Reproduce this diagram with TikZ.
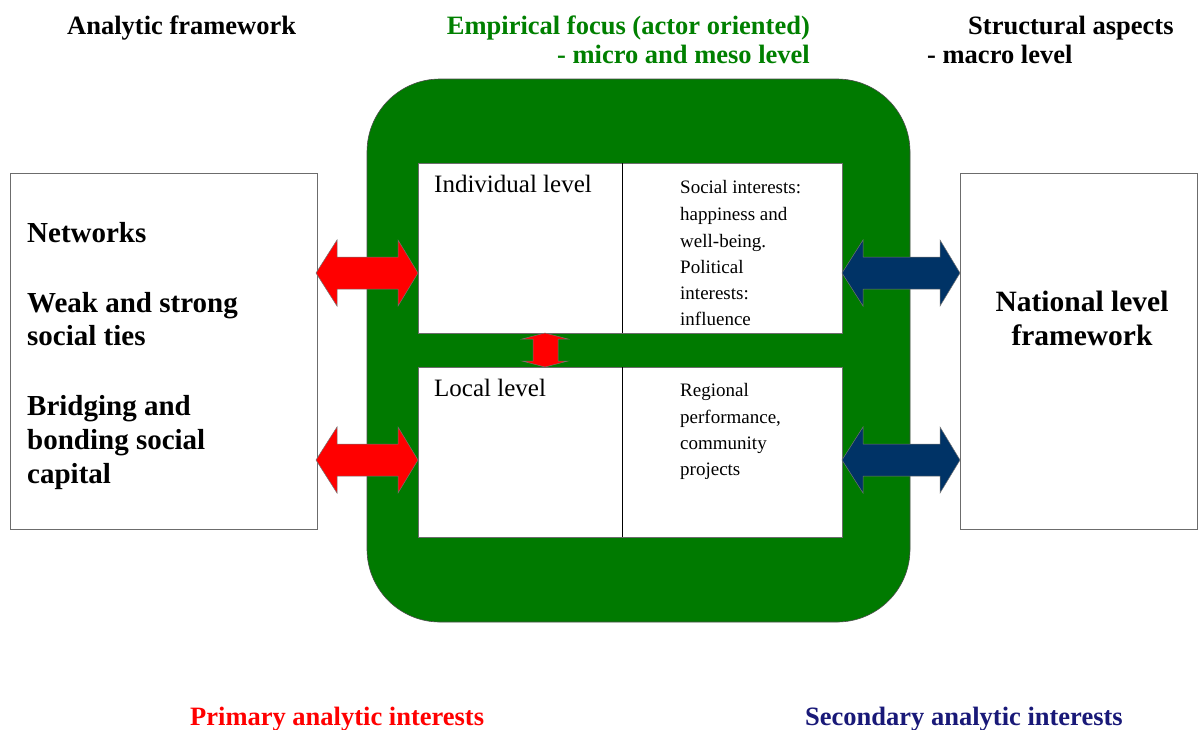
\documentclass[tikz,border=0pt]{standalone}
\usepackage{fontspec}
\setmainfont{Liberation Serif}
\definecolor{gfill}{RGB}{0,122,0}
\definecolor{gtext}{RGB}{0,128,0}
\definecolor{navyfill}{RGB}{0,51,102}
\definecolor{navytext}{RGB}{25,25,120}
\definecolor{redfill}{RGB}{255,0,0}
\newcommand\hblockarrow[4]{%
  \draw[arrowshape, fill=#4] ({#1},{#3}) -- ({#1+21},{#3-33}) -- ({#1+21},{#3-16}) -- ({#2-20},{#3-16}) -- ({#2-20},{#3-33}) -- ({#2},{#3}) -- ({#2-20},{#3+33}) -- ({#2-20},{#3+16}) -- ({#1+21},{#3+16}) -- ({#1+21},{#3+33}) -- cycle;}
\begin{document}
\begin{tikzpicture}[x=1pt,y=-1pt,
  box/.style={draw=gray!85!black, line width=0.9pt, fill=white, inner sep=0pt},
  arrowshape/.style={draw=black!55, line width=0.5pt, line join=miter},
  headtxt/.style={font=\fontsize{26.5}{30}\selectfont\bfseries, inner sep=0pt},
  bigtxt/.style={font=\fontsize{29}{34}\selectfont\bfseries, inner sep=0pt, anchor=base west},
  lvltxt/.style={font=\fontsize{25}{28}\selectfont, inner sep=0pt, anchor=base west},
  smalltxt/.style={font=\fontsize{19}{26}\selectfont, inner sep=0pt, anchor=base west}]
\useasboundingbox[fill=white] (0,0) rectangle (1198,729);

% headings
\node[headtxt, anchor=base west] (h1) at (67,34) {Analytic framework};
\node[headtxt, anchor=base east, text=gtext] (h2a) at (810,34) {Empirical focus (actor oriented)};
\node[headtxt, anchor=base east, text=gtext] (h2b) at (810,63) {- micro and meso level};
\node[headtxt, anchor=base west] (h3a) at (968,34) {Structural aspects};
\node[headtxt, anchor=base west] (h3b) at (927,63) {- macro level};

% side boxes
\node[box, minimum width=307pt, minimum height=356pt] (L) at (163.5,351) {};
\node[box, minimum width=237pt, minimum height=356pt] (R) at (1078.5,351) {};

% green frame
\node[draw=gray!60!black, line width=0.6pt, fill=gfill, rounded corners=73pt,
      minimum width=543pt, minimum height=543pt, inner sep=0pt] (G) at (638.5,350.5) {};

% inner boxes
\node[box, line width=0.8pt, minimum width=424pt, minimum height=170pt] (U) at (630,248) {};
\node[box, line width=0.8pt, minimum width=424pt, minimum height=170pt] (D) at (630,452) {};
\coordinate (ut) at (622,163); \coordinate (ub) at (622,333);
\coordinate (dt) at (622,367); \coordinate (db) at (622,537);
\draw[black, line width=1pt] (ut) -- (ub);
\draw[black, line width=1pt] (dt) -- (db);

% left box text
\node[bigtxt] (l1) at (27,242) {Networks};
\node[bigtxt] (l2) at (27,312) {Weak and strong};
\node[bigtxt] (l3) at (27,345) {social ties};
\node[bigtxt] (l4) at (27,415) {Bridging and};
\node[bigtxt] (l5) at (27,449) {bonding social};
\node[bigtxt] (l6) at (27,483) {capital};

% right box text
\node[font=\fontsize{29.5}{34}\selectfont\bfseries, inner sep=0pt, anchor=base] (r1) at (1082,311) {National level};
\node[font=\fontsize{29.5}{34}\selectfont\bfseries, inner sep=0pt, anchor=base] (r2) at (1082,345) {framework};

% inner texts
\node[lvltxt] (ind) at (434,192) {Individual level};
\node[lvltxt] (loc) at (434,396) {Local level};
\node[smalltxt] (s1) at (680,193) {Social interests:};
\node[smalltxt] (s2) at (680,220) {happiness and};
\node[smalltxt] (s3) at (680,247) {well-being.};
\node[smalltxt] (s4) at (680,273) {Political};
\node[smalltxt] (s5) at (680,299) {interests:};
\node[smalltxt] (s6) at (680,325) {influence};
\node[smalltxt] (g1) at (680,396) {Regional};
\node[smalltxt] (g2) at (680,423) {performance,};
\node[smalltxt] (g3) at (680,449) {community};
\node[smalltxt] (g4) at (680,475) {projects};

% block arrows
\hblockarrow{316}{418}{273}{redfill}
\hblockarrow{316}{418}{460}{redfill}
\hblockarrow{842}{960}{273}{navyfill}
\hblockarrow{842}{960}{460}{navyfill}
% small vertical arrow between U and D
\draw[arrowshape, fill=redfill] (545,333) -- (568,339) -- (558,339) -- (558,361) -- (568,361) -- (545,367) -- (522,361) -- (533,361) -- (533,339) -- (522,339) -- cycle;

% bottom labels
\node[headtxt, anchor=base west, text=redfill] (p1) at (190,725) {Primary analytic interests};
\node[headtxt, anchor=base west, text=navytext] (p2) at (805,725) {Secondary analytic interests};
\end{tikzpicture}
\end{document}
